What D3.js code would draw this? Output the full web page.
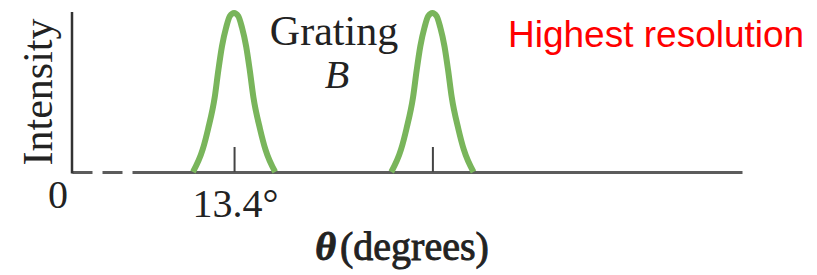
<!DOCTYPE html>
<html>
<head>
<meta charset="utf-8">
<script src="https://cdn.jsdelivr.net/npm/d3@7"></script>
<style>
  html, body { margin: 0; padding: 0; background: #fff; }
  #chart { width: 817px; height: 275px; }
</style>
</head>
<body>
<div id="chart"></div>
<script>
// peak profiles (angle in degrees, relative intensity)
const peak1Angles = [10.0, 10.8, 11.25, 11.8, 12.1, 12.4, 12.75, 13.05, 13.4, 13.75, 14.05, 14.4, 14.7, 15.0, 15.55, 16.0, 16.8];
const peak1Intensity = [0, 0.14, 0.27, 0.47, 0.64, 0.79, 0.91, 0.98, 1, 0.98, 0.91, 0.79, 0.64, 0.47, 0.27, 0.14, 0];
const peak2Angles = [26.4, 27.2, 27.65, 28.2, 28.5, 28.8, 29.15, 29.45, 29.8, 30.15, 30.45, 30.8, 31.1, 31.4, 31.95, 32.4, 33.2];
const peak2Intensity = [0, 0.14, 0.27, 0.47, 0.64, 0.79, 0.91, 0.98, 1, 0.98, 0.91, 0.79, 0.64, 0.47, 0.27, 0.14, 0];
const tickValues = [13.4, 29.8];
const tickLabels = ["13.4°", ""];

const width = 817, height = 275;

const svg = d3.select("#chart")
    .append("svg")
    .attr("width", width)
    .attr("height", height);

const x = d3.scaleLinear()
    .domain([0, 55.4])
    .range([72, 742]);

const y = d3.scaleLinear()
    .domain([0, 1])
    .range([172, 13]);

const serif = "'Liberation Serif', 'Times New Roman', serif";

// x axis: broken (dashed) near the origin, ticks pointing up
const xAxis = svg.append("g")
    .attr("transform", `translate(0,${y(0)})`)
    .call(d3.axisBottom(x)
        .tickValues(tickValues)
        .tickFormat((d, i) => tickLabels[i])
        .tickSizeInner(-25)
        .tickSizeOuter(0));

xAxis.select(".domain")
    .attr("stroke", "#5c5c5c")
    .attr("stroke-width", 3)
    .attr("stroke-dasharray", "20 10 20 10 700");

xAxis.selectAll(".tick line")
    .attr("stroke", "#444")
    .attr("stroke-width", 2);

xAxis.selectAll(".tick text")
    .attr("y", 45)
    .attr("dy", 0)
    .attr("dx", 1)
    .style("font-family", serif)
    .style("font-size", "40px")
    .attr("fill", "#222");

// y axis: plain line, no ticks
const yAxis = svg.append("g")
    .attr("transform", `translate(${x(0)},0)`)
    .call(d3.axisLeft(y).tickValues([]).tickSizeOuter(0));

yAxis.select(".domain")
    .attr("stroke", "#333")
    .attr("stroke-width", 2.5)
    .attr("d", `M0,${y(0) + 1.5}V${y(1) - 1}`);

// peaks
const line = d3.line()
    .x(d => x(d[0]))
    .y(d => y(d[1]))
    .curve(d3.curveMonotoneX);

[[peak1Angles, peak1Intensity], [peak2Angles, peak2Intensity]].forEach(([a, v]) => {
    svg.append("path")
        .datum(a.map((d, i) => [d, v[i]]))
        .attr("fill", "none")
        .attr("stroke", "#79b55b")
        .attr("stroke-width", 6)
        .attr("d", line);
});

// origin label
svg.append("text")
    .attr("x", x(0) - 14)
    .attr("y", 208)
    .attr("text-anchor", "middle")
    .style("font-family", serif)
    .style("font-size", "40px")
    .attr("fill", "#222")
    .text("0");

// y label
svg.append("text")
    .attr("transform", "rotate(-90)")
    .attr("x", -92)
    .attr("y", 52)
    .attr("text-anchor", "middle")
    .style("font-family", serif)
    .style("font-size", "42px")
    .attr("fill", "#222")
    .text("Intensity");

// x label (semi-bold look)
const xl = svg.append("text")
    .attr("x", 402)
    .attr("y", 260)
    .attr("text-anchor", "middle")
    .style("font-family", serif)
    .style("font-size", "40px")
    .attr("fill", "#222")
    .attr("stroke", "#222")
    .attr("stroke-width", 0.9);
xl.append("tspan").style("font-style", "italic").style("font-weight", "bold").text("θ");
xl.append("tspan").attr("dx", 4).text("(degrees)");

// grating label
svg.append("text")
    .attr("x", 334)
    .attr("y", 45)
    .attr("text-anchor", "middle")
    .style("font-family", serif)
    .style("font-size", "42px")
    .attr("fill", "#222")
    .text("Grating");

svg.append("text")
    .attr("x", 337)
    .attr("y", 88)
    .attr("text-anchor", "middle")
    .style("font-family", serif)
    .style("font-size", "40px")
    .style("font-style", "italic")
    .attr("fill", "#222")
    .text("B");

// annotation
svg.append("text")
    .attr("x", 508)
    .attr("y", 47)
    .style("font-family", "'Liberation Sans', Arial, sans-serif")
    .style("font-size", "37px")
    .attr("fill", "#ff0000")
    .text("Highest resolution");
</script>
</body>
</html>
